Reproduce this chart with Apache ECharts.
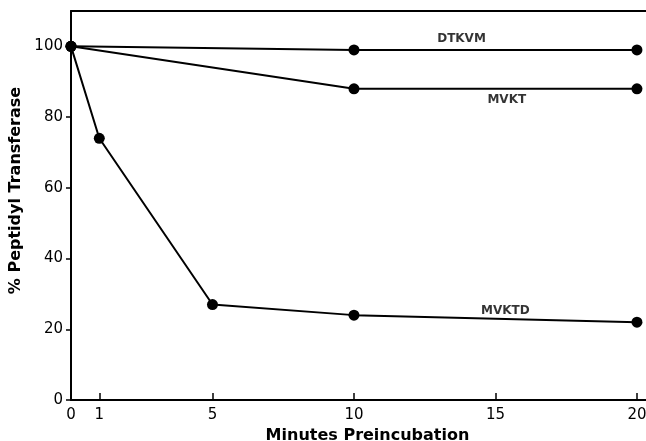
<!DOCTYPE html>
<html><head><meta charset="utf-8">
<script src="https://cdn.jsdelivr.net/npm/echarts@6/dist/echarts.min.js"></script>
<style>html,body{margin:0;padding:0;background:#fff}#c{width:646px;height:441px}</style>
</head><body><div id="c"></div>
<script>
const xTicks = [0, 1, 5, 10, 15, 20];
const yTicks = [0, 20, 40, 60, 80, 100];
const dtkvm = [[0, 100], [10, 99], [20, 99]];
const mvkt = [[0, 100], [10, 88], [20, 88]];
const mvktd = [[0, 100], [1, 74], [5, 27], [10, 24], [20, 22]];
const seriesNames = ['DTKVM', 'MVKT', 'MVKTD'];
const labelPos = [[13.8, 102], [15.4, 85], [15.35, 25.2]];

const chart = echarts.init(document.getElementById('c'));
const font = 'DejaVu Sans';
const lineSeries = (name, data) => ({
  type: 'line', name, data, symbol: 'circle', symbolSize: 11,
  lineStyle: { color: '#000', width: 2 }, itemStyle: { color: '#000' },
  animation: false, silent: true
});
chart.setOption({
  animation: false,
  grid: { left: 71, right: 0, top: 11, bottom: 41, containLabel: false, outerBoundsMode: 'none' },
  xAxis: [{
    type: 'value', min: 0, max: 20.32,
    name: 'Minutes Preincubation', nameLocation: 'middle', nameGap: 22,
    nameTextStyle: { fontFamily: font, fontSize: 16, color: '#000', fontWeight: 'bold', padding: [0, 0, 0, 18] },
    axisLine: { lineStyle: { color: '#000', width: 2 } },
    axisTick: { inside: true, length: 7, customValues: xTicks, lineStyle: { color: '#000', width: 1.5 } },
    axisLabel: { customValues: xTicks, fontFamily: font, fontSize: 15, color: '#000', margin: 8 },
    splitLine: { show: false }
  }, {
    type: 'value', min: 0, max: 20.32, position: 'top',
    axisLine: { show: true, lineStyle: { color: '#000', width: 2 } },
    axisTick: { show: false }, axisLabel: { show: false }, splitLine: { show: false }
  }],
  yAxis: {
    type: 'value', min: 0, max: 110,
    name: '% Peptidyl Transferase', nameLocation: 'middle', nameGap: 46,
    nameTextStyle: { fontFamily: font, fontSize: 16, color: '#000', fontWeight: 'bold', padding: [0, 0, 0, 30] },
    axisLine: { show: true, lineStyle: { color: '#000', width: 2 } },
    axisTick: { show: true, length: 5, customValues: yTicks, lineStyle: { color: '#000', width: 1.5 } },
    axisLabel: { customValues: yTicks, fontFamily: font, fontSize: 15, color: '#000', margin: 8 },
    splitLine: { show: false }
  },
  series: [
    lineSeries(seriesNames[0], dtkvm),
    lineSeries(seriesNames[1], mvkt),
    lineSeries(seriesNames[2], mvktd),
    {
      type: 'scatter', symbolSize: 0, silent: true,
      data: labelPos.map((p, i) => ({ value: p, name: seriesNames[i] })),
      label: { show: true, position: 'inside', formatter: '{b}', fontFamily: font, fontSize: 12, fontWeight: 'bold', color: '#000' }
    }
  ]
});
</script></body></html>
